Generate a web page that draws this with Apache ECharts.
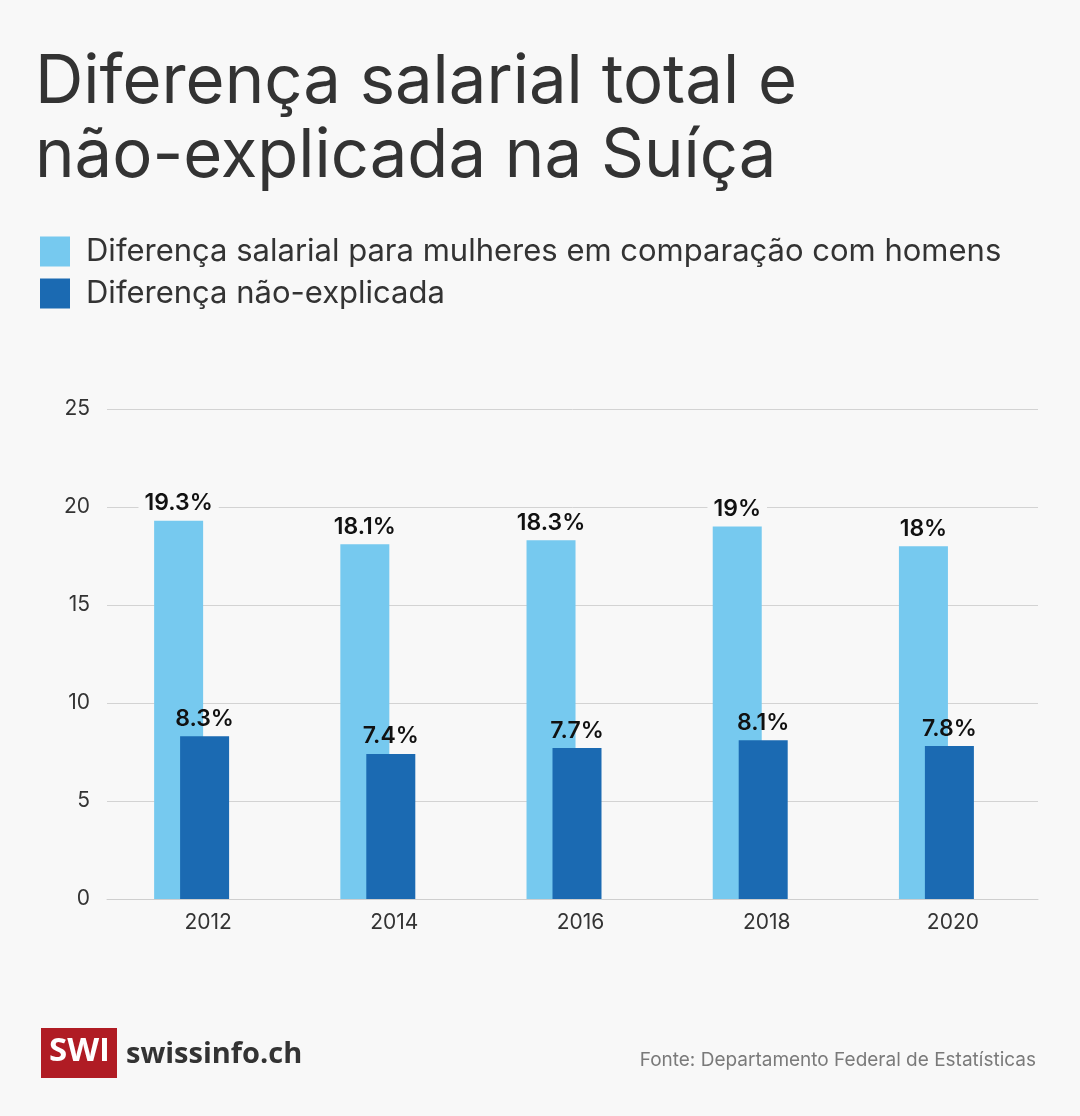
<!DOCTYPE html>
<html>
<head>
<meta charset="utf-8">
<script src="https://cdn.jsdelivr.net/npm/echarts@6/dist/echarts.min.js"></script>
<style>
  html, body { margin: 0; padding: 0; background: #f8f8f8; }
  #chart { width: 1080px; height: 1116px; }
</style>
</head>
<body>
<div id="chart"></div>
<script>
const years = ['2012', '2014', '2016', '2018', '2020'];
const totalGap = [19.3, 18.1, 18.3, 19.0, 18.0];
const unexplainedGap = [8.3, 7.4, 7.7, 8.1, 7.8];
const seriesNames = ['Diferença salarial para mulheres em comparação com homens', 'Diferença não-explicada'];
const yTicks = { min: 0, max: 25, interval: 5 };
const titleText = 'Diferença salarial total e\nnão-explicada na Suíça';
const sourceText = 'Fonte: Departamento Federal de Estatísticas';

const FONT = 'Inter, "Noto Sans", sans-serif';
const chart = echarts.init(document.getElementById('chart'), null, { renderer: 'canvas' });

const labelBase = {
  show: true,
  position: 'top',
  distance: 4,
  formatter: '{c}%',
  fontFamily: FONT,
  fontSize: 23,
  fontWeight: 600,
  color: '#111'
};

chart.setOption({
  backgroundColor: '#f8f8f8',
  animation: false,
  textStyle: { fontFamily: FONT },
  title: {
    text: titleText,
    left: 35,
    top: 46,
    padding: 0,
    textStyle: { fontFamily: FONT, fontSize: 67, fontWeight: 400, color: '#333', lineHeight: 74 }
  },
  legend: {
    data: seriesNames,
    orient: 'vertical',
    left: 40,
    top: 236,
    padding: 0,
    itemWidth: 30,
    itemHeight: 30,
    itemGap: 11,
    icon: 'rect',
    selectedMode: false,
    textStyle: { fontFamily: FONT, fontSize: 31, color: '#333', padding: [6, 0, 0, 11] }
  },
  grid: { left: 107, right: 42, top: 409, bottom: 217, containLabel: false },
  xAxis: {
    type: 'category',
    data: years,
    axisLine: { lineStyle: { color: '#cfcfcf', width: 1 } },
    axisTick: { show: false },
    axisLabel: { fontFamily: FONT, fontSize: 21, color: '#333', margin: 13, padding: [0, 0, 0, 16] }
  },
  yAxis: {
    type: 'value',
    min: yTicks.min,
    max: yTicks.max,
    interval: yTicks.interval,
    axisLine: { show: false },
    axisTick: { show: false },
    axisLabel: { fontFamily: FONT, fontSize: 21, color: '#333', margin: 17 },
    splitLine: { lineStyle: { color: '#d3d3d3', width: 1 } }
  },
  series: [
    {
      name: seriesNames[0],
      type: 'bar',
      data: totalGap,
      barWidth: 49,
      barGap: '-47%',
      itemStyle: { color: '#76c9ef' },
      label: Object.assign({}, labelBase, { backgroundColor: '#f8f8f8', padding: [2, 6] }),
      z: 2
    },
    {
      name: seriesNames[1],
      type: 'bar',
      data: unexplainedGap,
      barWidth: 49,
      barGap: '-47%',
      itemStyle: { color: '#1b6ab2' },
      label: Object.assign({}, labelBase, { padding: [2, 6] }),
      z: 3
    },
    {
      name: 'spacer',
      type: 'bar',
      data: [],
      barWidth: 40,
      barGap: '-47%',
      silent: true
    }
  ],
  graphic: [
    {
      type: 'rect',
      left: 41, top: 1028,
      shape: { width: 76, height: 50 },
      style: { fill: '#b01c24' }
    },
    {
      type: 'text',
      left: 49, top: 1035,
      style: { text: 'SWI', fill: '#fff', font: 'bold 33px "Open Sans", Inter, sans-serif' }
    },
    {
      type: 'text',
      left: 126, top: 1040,
      style: { text: 'swissinfo.ch', fill: '#333', font: 'bold 29px "Open Sans", Inter, sans-serif' }
    },
    {
      type: 'text',
      right: 44, top: 1051,
      style: { text: sourceText, fill: '#7a7a7a', font: '19px ' + FONT }
    }
  ]
});
</script>
</body>
</html>
